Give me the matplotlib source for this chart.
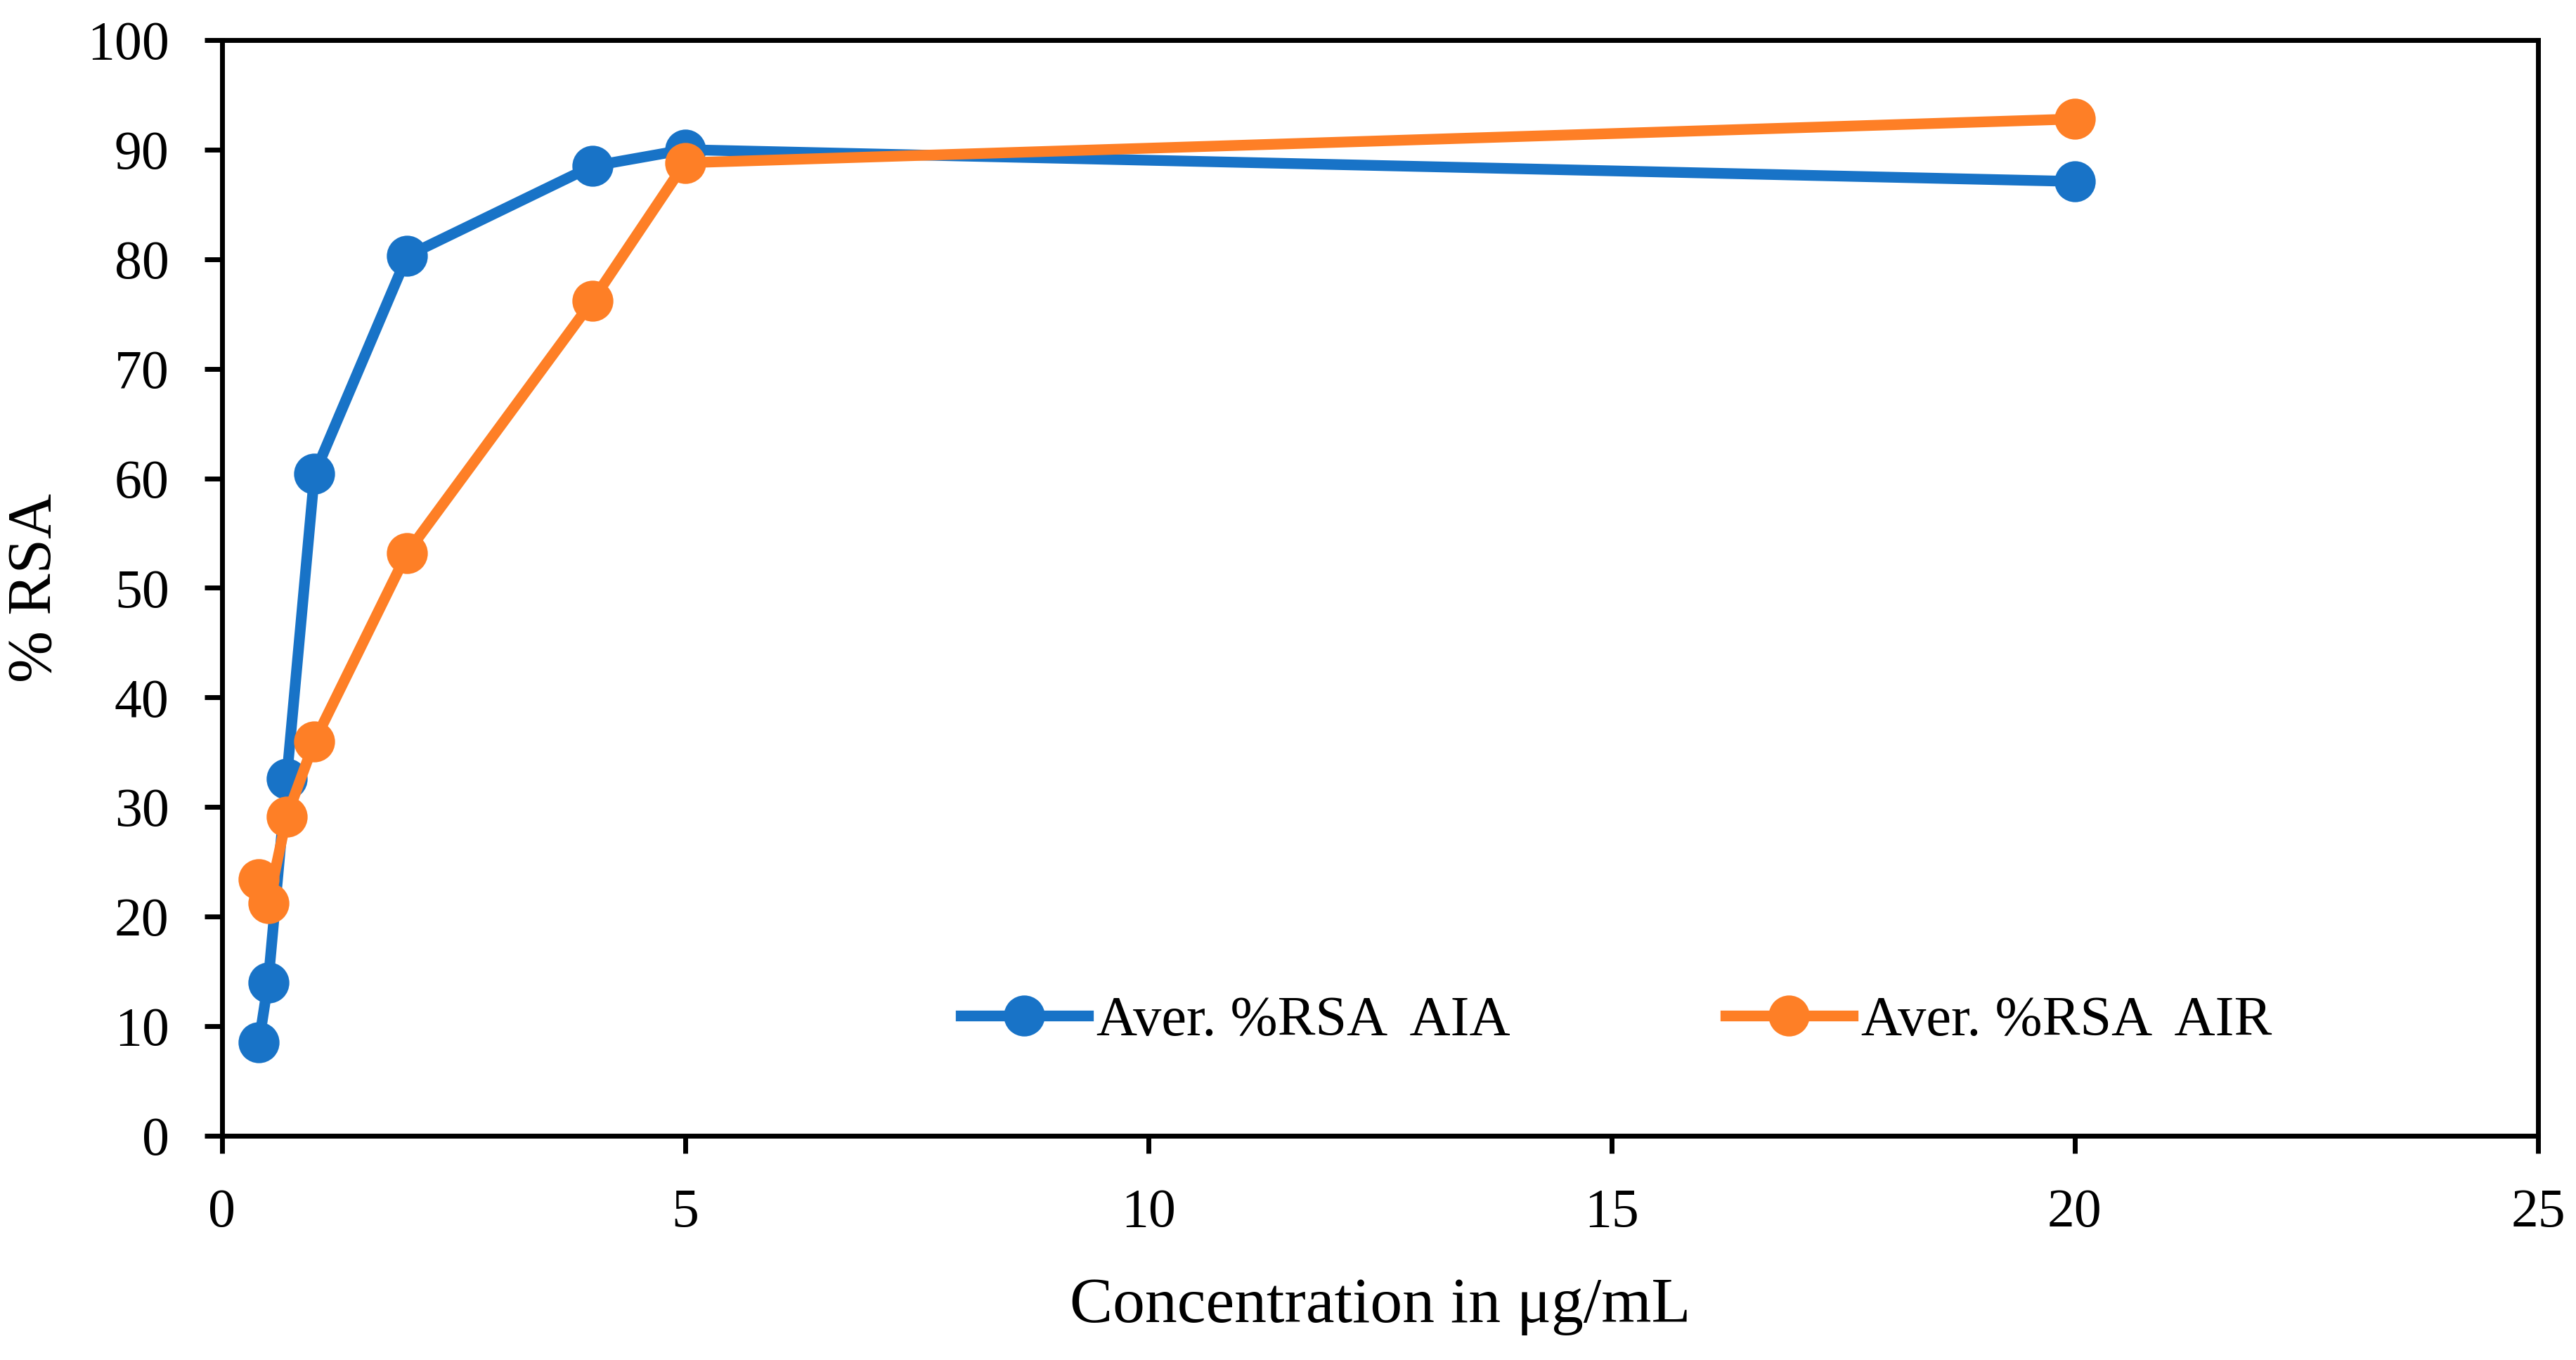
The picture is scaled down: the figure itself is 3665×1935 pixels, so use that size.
import matplotlib
matplotlib.use("Agg")
import matplotlib.pyplot as plt

# Concentration (ug/mL) and averaged %RSA for the two samples
conc = [0.4, 0.5, 0.7, 1, 2, 4, 5, 20]
rsa_aia = [8.5, 14.0, 32.6, 60.4, 80.3, 88.5, 90.0, 87.1]
rsa_air = [23.4, 21.2, 29.1, 36.0, 53.2, 76.2, 88.8, 92.8]

label_aia = "Aver. %RSA  AIA"
label_air = "Aver. %RSA  AIR"

blue = "#1873C7"
orange = "#FE7F26"

plt.rcParams['font.family'] = ['Liberation Serif', 'DejaVu Serif']
fs = 28

fig = plt.figure(figsize=(18.33, 9.675), dpi=200)
ax = fig.add_axes([0.0861, 0.165, 0.8989, 0.8055])

ax.plot(conc, rsa_aia, color=blue, linewidth=5.5, marker='o', markersize=20,
        label=label_aia)
ax.plot(conc, rsa_air, color=orange, linewidth=5.5, marker='o', markersize=20,
        label=label_air)

ax.set_xlim(0, 25)
ax.set_ylim(0, 100)
ax.set_xticks([0, 5, 10, 15, 20, 25])
ax.set_yticks(range(0, 101, 10))

for s in ax.spines.values():
    s.set_linewidth(2.5)
ax.tick_params(axis='both', direction='out', length=9, width=2.5,
               labelsize=fs, pad=18)

ax.set_xlabel("Concentration in μg/mL", fontsize=33, labelpad=20)
ax.set_ylabel("% RSA", fontsize=32, labelpad=12)

ax.legend(loc='center', bbox_to_anchor=(0.602, 0.104), ncol=2, frameon=False,
          fontsize=29, handlelength=2.25, handletextpad=0.15,
          columnspacing=3.8)

fig.savefig("out.png", dpi=200, facecolor='white')
